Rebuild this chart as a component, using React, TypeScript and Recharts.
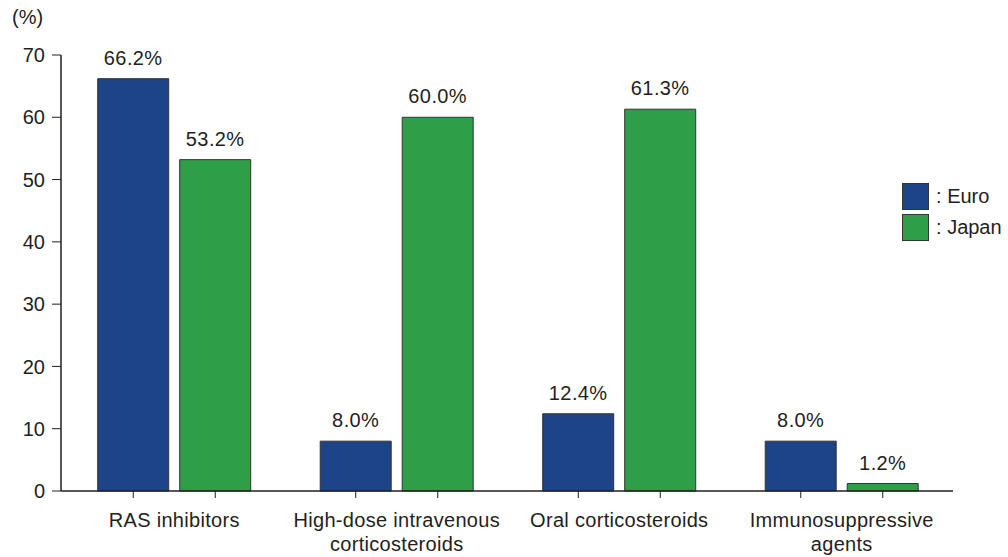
import React from 'react';
import { BarChart, Bar, XAxis, YAxis, LabelList } from 'recharts';

const categories = ['RAS inhibitors', 'High-dose intravenous\ncorticosteroids', 'Oral corticosteroids', 'Immunosuppressive\nagents'];
const euroValues = [66.2, 8.0, 12.4, 8.0];
const japanValues = [53.2, 60.0, 61.3, 1.2];
const yTicks = [0, 10, 20, 30, 40, 50, 60, 70];
const legendItems = [
  { label: 'Euro', color: '#1e4488' },
  { label: 'Japan', color: '#2e9e48' },
];

const EURO = legendItems[0].color;
const JAPAN = legendItems[1].color;
const TEXT = '#231f20';
const FONT = '"Liberation Sans", Arial, sans-serif';
const FS = 20;

const data = categories.map((name, i) => ({ name, euro: euroValues[i], japan: japanValues[i] }));

const CategoryTick = ({ x, y, payload }: any) => {
  const lines = String(payload.value).split('\n');
  return (
    <g>
      {/* small ticks under each bar */}
      <line x1={x - 41} x2={x - 41} y1={y - 8} y2={y - 1} stroke={TEXT} strokeWidth={1} />
      <line x1={x + 41} x2={x + 41} y1={y - 8} y2={y - 1} stroke={TEXT} strokeWidth={1} />
      {lines.map((line, i) => (
        <text key={i} x={x} y={y + 28 + i * 24} textAnchor="middle" fontSize={FS} letterSpacing={0.3} fill={TEXT} fontFamily={FONT}>
          {line}
        </text>
      ))}
    </g>
  );
};

const pct = (v: any) => `${Number(v).toFixed(1)}%`;

export default function App() {
  return (
    <div style={{ position: 'relative', width: 1008, height: 557, background: '#fff', fontFamily: FONT }}>
      <style>{'body{margin:0}'}</style>
      <div style={{ position: 'absolute', left: 12, top: 6, fontSize: FS, color: TEXT }}>(%)</div>
      <div style={{ position: 'absolute', left: 902, top: 181, fontSize: FS, color: TEXT }}>
        {legendItems.map((it) => (
          <div key={it.label} style={{ display: 'flex', alignItems: 'center', height: 31 }}>
            <span style={{ width: 27, height: 27, background: it.color, border: '1px solid #333', boxSizing: 'border-box', marginRight: 7 }} />
            <span>: {it.label}</span>
          </div>
        ))}
      </div>
      <BarChart
        width={1008}
        height={557}
        data={data}
        margin={{ top: 55, right: 55, bottom: 0, left: 0 }}
        barCategoryGap="15.6%"
        barGap={11}
      >
        <XAxis
          dataKey="name"
          height={66}
          padding={{ left: 2, right: 0 }}
          tickLine={false}
          axisLine={{ stroke: TEXT, strokeWidth: 1.5 }}
          tick={<CategoryTick />}
          interval={0}
        />
        <YAxis
          width={61}
          domain={[0, 70]}
          ticks={yTicks}
          interval={0}
          tickSize={9}
          tickMargin={7}
          axisLine={{ stroke: TEXT, strokeWidth: 1.5 }}
          tickLine={{ stroke: TEXT, strokeWidth: 1 }}
          tick={{ fontSize: FS, fill: TEXT, fontFamily: FONT }}
        />
        <Bar dataKey="euro" fill={EURO} stroke="#333" strokeWidth={1} isAnimationActive={false}>
          <LabelList dataKey="euro" position="top" offset={14} formatter={pct}
            style={{ fontSize: FS, fill: TEXT, fontFamily: FONT, letterSpacing: 0.4 }} />
        </Bar>
        <Bar dataKey="japan" fill={JAPAN} stroke="#333" strokeWidth={1} isAnimationActive={false}>
          <LabelList dataKey="japan" position="top" offset={14} formatter={pct}
            style={{ fontSize: FS, fill: TEXT, fontFamily: FONT, letterSpacing: 0.4 }} />
        </Bar>
      </BarChart>
    </div>
  );
}
